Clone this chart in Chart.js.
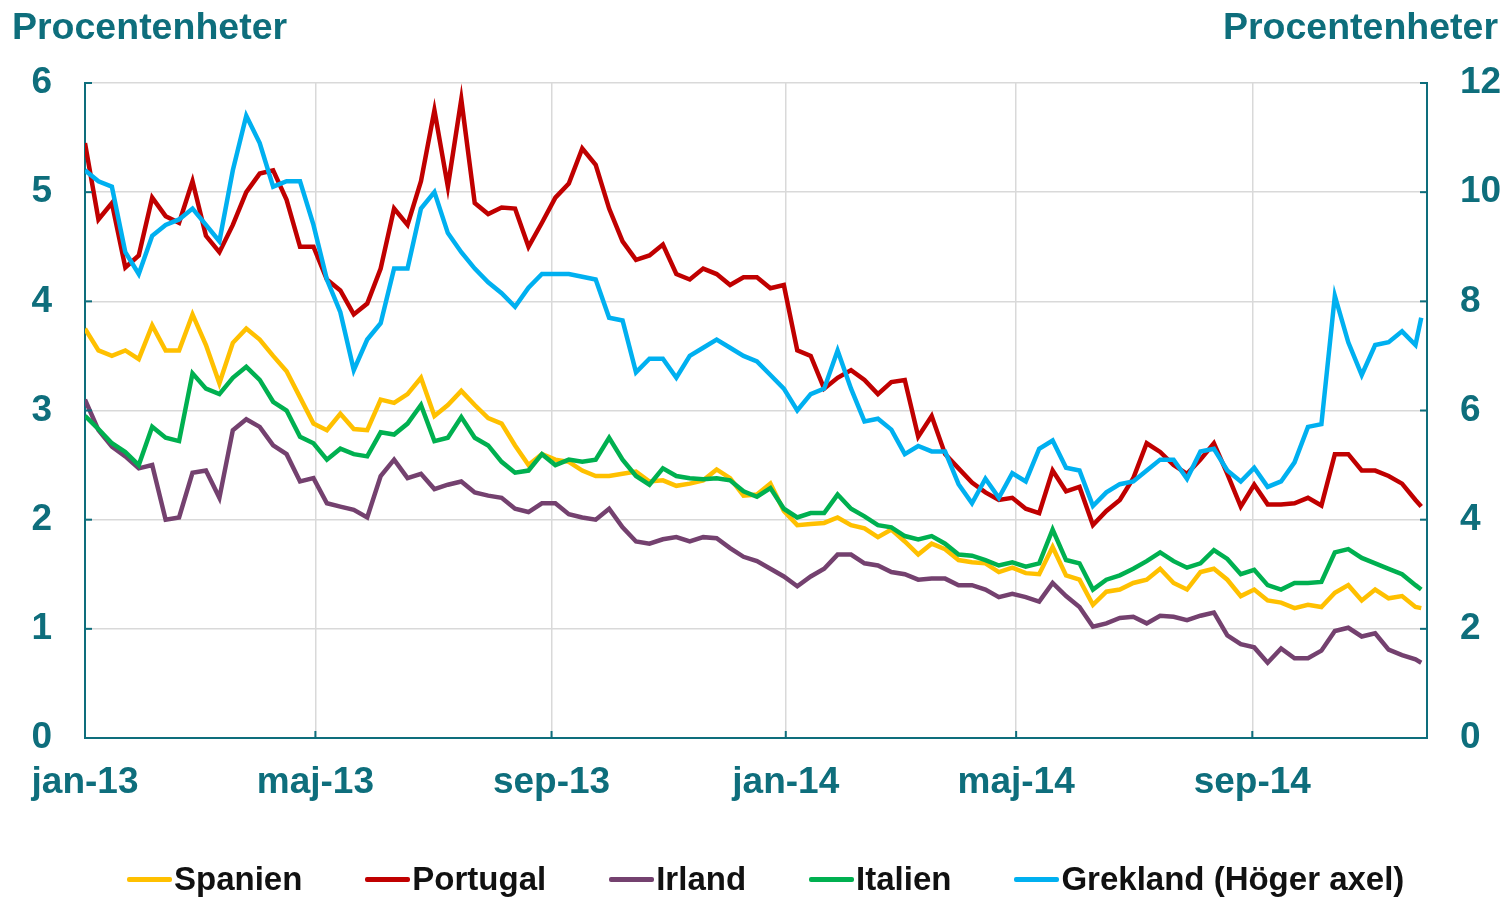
<!DOCTYPE html>
<html>
<head>
<meta charset="utf-8">
<script src="https://cdn.jsdelivr.net/npm/chart.js@4.4.0/dist/chart.umd.min.js"></script>
<style>
  html, body { margin: 0; padding: 0; background: #fff; }
  #wrap { width: 1507px; height: 897px; position: relative; }
  #legend { position: absolute; left: 127px; top: 859px; height: 40px; display: flex; align-items: center;
    font: bold 33px "Liberation Sans", Arial, sans-serif; color: #111; white-space: nowrap; }
  #legend .it { display: flex; align-items: center; margin-right: 63px; }
  #legend .ln { display: inline-block; width: 45px; height: 5px; border-radius: 2px; margin-right: 2px; }
</style>
</head>
<body>
<div id="wrap">
  <canvas id="chart" width="1507" height="897"></canvas>
  <div id="legend"></div>
</div>
<script>
/* Statsobligationsspreadar mot Tyskland, jan-13 -- nov-14 (veckovis avläst) */

// days since 1 jan 2013, one point a week
var DAYS = [0,7,14,21,28,35,42,49,56,63,70,77,84,91,98,105,112,119,126,133,
  140,147,154,161,168,175,182,189,196,203,210,217,224,231,238,245,252,259,266,273,
  280,287,294,301,308,315,322,329,336,343,350,357,364,371,378,385,392,399,406,413,
  420,427,434,441,448,455,462,469,476,483,490,497,504,511,518,525,532,539,546,553,
  560,567,574,581,588,595,602,609,616,623,630,637,644,651,658,665,672,679,686,693,696];

var TICK_DAYS = [0, 120, 243, 365, 485, 608];
var TICK_LABELS = ["jan-13", "maj-13", "sep-13", "jan-14", "maj-14", "sep-14"];

var SPANIEN = [3.75,3.55,3.50,3.55,3.47,3.78,3.55,3.55,3.88,3.60,3.25,3.62,3.75,3.65,3.50,3.36,3.12,2.88,2.82,2.97,
  2.83,2.82,3.10,3.07,3.15,3.30,2.95,3.05,3.18,3.05,2.93,2.88,2.68,2.50,2.60,2.55,2.53,2.45,2.40,2.40,
  2.42,2.44,2.35,2.36,2.31,2.33,2.36,2.46,2.38,2.22,2.23,2.33,2.08,1.95,1.96,1.97,2.02,1.95,1.92,1.84,
  1.91,1.80,1.68,1.78,1.73,1.63,1.61,1.60,1.52,1.56,1.51,1.50,1.75,1.49,1.45,1.22,1.34,1.36,1.42,1.45,
  1.55,1.42,1.36,1.52,1.55,1.45,1.30,1.36,1.26,1.24,1.19,1.22,1.20,1.33,1.40,1.26,1.36,1.28,1.30,1.20,1.19];

var PORTUGAL = [5.45,4.75,4.90,4.31,4.42,4.95,4.78,4.72,5.10,4.60,4.45,4.70,5.00,5.17,5.20,4.93,4.50,4.50,4.20,4.10,
  3.88,3.98,4.30,4.85,4.70,5.10,5.75,5.05,5.85,4.90,4.80,4.86,4.85,4.50,4.72,4.95,5.08,5.40,5.25,4.85,
  4.55,4.38,4.42,4.52,4.25,4.20,4.30,4.25,4.15,4.22,4.22,4.12,4.15,3.55,3.50,3.20,3.30,3.37,3.28,3.15,
  3.26,3.28,2.76,2.95,2.60,2.47,2.34,2.25,2.18,2.20,2.10,2.06,2.45,2.26,2.30,1.95,2.08,2.18,2.38,2.70,
  2.62,2.50,2.42,2.55,2.70,2.42,2.12,2.32,2.14,2.14,2.15,2.20,2.13,2.60,2.60,2.45,2.45,2.40,2.33,2.18,2.12];

var IRLAND = [3.10,2.82,2.67,2.58,2.47,2.50,2.00,2.02,2.43,2.45,2.20,2.82,2.92,2.85,2.68,2.60,2.35,2.38,2.15,2.12,
  2.09,2.02,2.40,2.55,2.38,2.42,2.28,2.32,2.35,2.25,2.22,2.20,2.10,2.07,2.15,2.15,2.05,2.02,2.00,2.10,
  1.93,1.80,1.78,1.82,1.84,1.80,1.84,1.83,1.74,1.66,1.62,1.55,1.48,1.39,1.48,1.55,1.68,1.68,1.60,1.58,
  1.52,1.50,1.45,1.46,1.46,1.40,1.40,1.36,1.29,1.32,1.29,1.25,1.42,1.30,1.20,1.02,1.05,1.10,1.11,1.05,
  1.12,1.11,1.08,1.12,1.15,0.94,0.86,0.83,0.69,0.82,0.73,0.73,0.80,0.98,1.01,0.93,0.96,0.81,0.76,0.72,0.69];

var ITALIEN = [2.95,2.83,2.70,2.62,2.50,2.85,2.75,2.72,3.34,3.20,3.15,3.30,3.40,3.28,3.08,3.00,2.76,2.70,2.55,2.65,
  2.60,2.58,2.80,2.78,2.88,3.05,2.72,2.75,2.94,2.75,2.68,2.53,2.43,2.45,2.60,2.50,2.55,2.53,2.55,2.75,
  2.55,2.40,2.32,2.47,2.40,2.38,2.37,2.38,2.36,2.26,2.21,2.29,2.10,2.02,2.06,2.06,2.23,2.10,2.03,1.95,
  1.93,1.85,1.82,1.85,1.78,1.68,1.67,1.63,1.58,1.61,1.57,1.60,1.91,1.63,1.60,1.36,1.45,1.49,1.55,1.62,
  1.70,1.62,1.56,1.60,1.72,1.64,1.50,1.54,1.40,1.36,1.42,1.42,1.43,1.70,1.73,1.65,1.60,1.55,1.50,1.40,1.36];

// right axis
var GREKLAND = [10.4,10.2,10.1,8.9,8.5,9.2,9.4,9.5,9.7,9.4,9.1,10.4,11.4,10.9,10.1,10.2,10.2,9.4,8.4,7.8,
  6.74,7.3,7.6,8.6,8.6,9.7,10.0,9.25,8.9,8.6,8.35,8.15,7.9,8.25,8.5,8.5,8.5,8.45,8.4,7.7,
  7.65,6.7,6.95,6.95,6.6,7.0,7.15,7.3,7.15,7.0,6.9,6.65,6.4,6.0,6.3,6.4,7.1,6.4,5.8,5.85,
  5.65,5.2,5.35,5.25,5.25,4.65,4.3,4.75,4.4,4.85,4.7,5.3,5.45,4.95,4.9,4.25,4.5,4.65,4.7,4.9,
  5.1,5.1,4.75,5.25,5.3,4.9,4.7,4.95,4.6,4.7,5.05,5.7,5.75,8.1,7.25,6.65,7.2,7.25,7.45,7.2,7.7];

var TEAL = "#0e6e7c";
var GRID = "#d9d9d9";
var FONT = '"Liberation Sans", Arial, sans-serif';

var SERIES = [
  { label: "Spanien", values: SPANIEN, color: "#ffc000", axis: "y", order: 4 },
  { label: "Portugal", values: PORTUGAL, color: "#c00000", axis: "y", order: 3 },
  { label: "Irland", values: IRLAND, color: "#74416f", axis: "y", order: 2 },
  { label: "Italien", values: ITALIEN, color: "#00b050", axis: "y", order: 1 },
  { label: "Grekland (Höger axel)", values: GREKLAND, color: "#00b0f0", axis: "y2", order: 0 }
];

function pts(arr) { return arr.map(function (v, i) { return { x: DAYS[i], y: v }; }); }

/* titles + inward tick marks in axis colour */
var frame = {
  id: "frame",
  afterDraw: function (chart) {
    var c = chart.ctx, a = chart.chartArea, s = chart.scales;
    c.save();
    c.strokeStyle = TEAL; c.lineWidth = 2;
    s.y.ticks.forEach(function (t) {
      var py = s.y.getPixelForValue(t.value);
      c.beginPath(); c.moveTo(a.left, py); c.lineTo(a.left + 7, py); c.stroke();
    });
    s.y2.ticks.forEach(function (t) {
      var py = s.y2.getPixelForValue(t.value);
      c.beginPath(); c.moveTo(a.right, py); c.lineTo(a.right - 7, py); c.stroke();
    });
    s.x.ticks.forEach(function (t) {
      var px = s.x.getPixelForValue(t.value);
      c.beginPath(); c.moveTo(px, a.bottom); c.lineTo(px, a.bottom - 7); c.stroke();
    });
    c.fillStyle = TEAL;
    c.font = "bold 37.5px " + FONT;
    c.textBaseline = "middle";
    c.textAlign = "left"; c.fillText("Procentenheter", 12, 29);
    c.textAlign = "right"; c.fillText("Procentenheter", 1498, 29);
    c.restore();
  }
};

var tickFont = { family: FONT, size: 37, weight: "bold" };

new Chart(document.getElementById("chart"), {
  type: "line",
  data: {
    datasets: SERIES.map(function (s) {
      return { label: s.label, data: pts(s.values), borderColor: s.color, backgroundColor: s.color,
        borderWidth: 4.5, pointRadius: 0, tension: 0, yAxisID: s.axis, order: s.order };
    })
  },
  options: {
    responsive: false,
    devicePixelRatio: 1,
    animation: false,
    layout: { padding: { top: 83, left: 0, right: 0, bottom: 81 } },
    plugins: { tooltip: { enabled: false }, legend: { display: false } },
    scales: {
      x: {
        type: "linear", min: 0, max: 699,
        afterBuildTicks: function (scale) {
          scale.ticks = TICK_DAYS.map(function (d) { return { value: d }; });
        },
        afterFit: function (scale) { scale.height = 78; },
        ticks: {
          color: TEAL, padding: 23, maxRotation: 0, autoSkip: false, font: tickFont,
          callback: function (v) { var i = TICK_DAYS.indexOf(v); return i < 0 ? "" : TICK_LABELS[i]; }
        },
        grid: { color: GRID, lineWidth: 1.5, drawTicks: false },
        border: { color: TEAL, width: 2 }
      },
      y: {
        position: "left", min: 0, max: 6,
        afterFit: function (scale) { scale.width = 85; },
        ticks: { stepSize: 1, color: TEAL, padding: 33, font: tickFont },
        grid: { color: GRID, lineWidth: 1.5, drawTicks: false },
        border: { color: TEAL, width: 2 }
      },
      y2: {
        position: "right", min: 0, max: 12,
        afterFit: function (scale) { scale.width = 80; },
        ticks: { stepSize: 2, color: TEAL, padding: 33, font: tickFont },
        grid: { drawOnChartArea: false, drawTicks: false },
        border: { color: TEAL, width: 2 }
      }
    }
  },
  plugins: [frame]
});

// legend as plain text under the chart
var leg = document.getElementById("legend");
SERIES.forEach(function (s) {
  var it = document.createElement("span"); it.className = "it";
  var ln = document.createElement("span"); ln.className = "ln"; ln.style.background = s.color;
  it.appendChild(ln); it.appendChild(document.createTextNode(s.label));
  leg.appendChild(it);
});
</script>
</body>
</html>
